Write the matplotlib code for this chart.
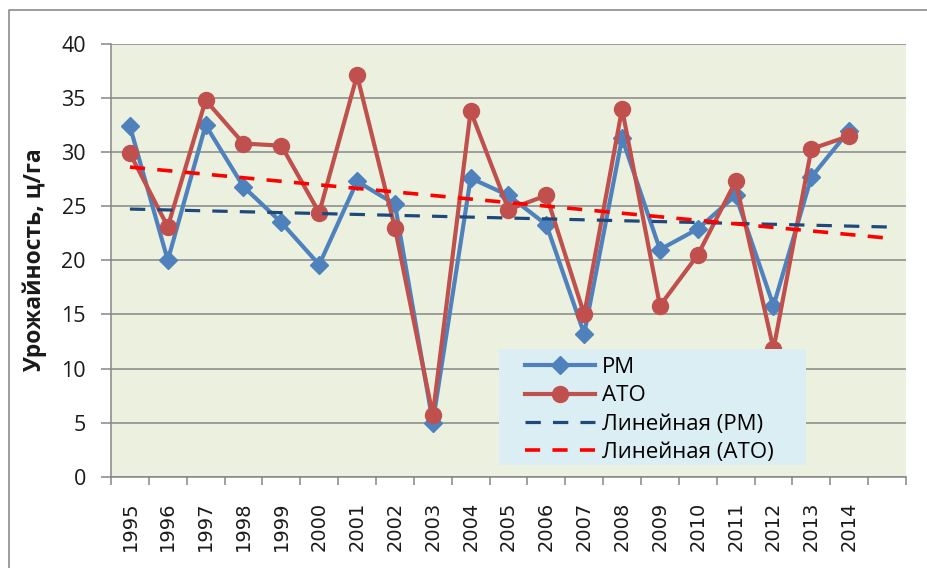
import numpy as np
import matplotlib
matplotlib.use("Agg")
import matplotlib.pyplot as plt
from matplotlib.patches import Rectangle
from matplotlib.lines import Line2D

years = [str(y) for y in range(1995, 2015)]
pm = [32.4, 20.0, 32.5, 26.8, 23.5, 19.6, 27.3, 25.2, 5.0, 27.6,
      26.0, 23.3, 13.2, 31.3, 21.0, 22.9, 26.0, 15.8, 27.7, 32.0]
ato = [29.9, 23.1, 34.8, 30.8, 30.6, 24.4, 37.1, 23.0, 5.7, 33.8,
       24.7, 26.0, 15.0, 34.0, 15.8, 20.5, 27.3, 11.8, 30.3, 31.5]
labels = ["РМ", "АТО", "Линейная (РМ)", "Линейная (АТО)"]
ylabel = "Урожайность, ц/га"

W, H = 928, 568
fig = plt.figure(figsize=(W / 100, H / 100), dpi=100)
ax = fig.add_axes([111 / W, (H - 476.7) / H, (906 - 111) / W, 432.7 / H])
ax.set_facecolor("#EBF1DE")

x = np.arange(1, len(years) + 1)
# trendlines (linear, forecast forward 1 period)
xt = np.array([1, len(years) + 1])
c_pm = np.polyfit(x, pm, 1)
c_ato = np.polyfit(x, ato, 1)

ax.plot(x, pm, color="#4F81BD", lw=3.0, marker="D", ms=9, zorder=3,
        solid_joinstyle="round")
ax.plot(x, ato, color="#C0504D", lw=3.0, marker="o", ms=11.5, zorder=3.1,
        solid_joinstyle="round")
ax.plot(xt, np.polyval(c_pm, xt), color="#1F497D", lw=2.3, ls=(0, (4.8, 3.8)), zorder=3.2)
ax.plot(xt, np.polyval(c_ato, xt), color="#FF0000", lw=2.6, ls=(0, (4.2, 3.4)), zorder=3.3)

ax.set_xlim(0.5, len(years) + 1.5)
ax.set_ylim(0, 40)
ax.set_yticks(np.arange(0, 41, 5))
ax.yaxis.grid(True, color="#868686", lw=1.1)
ax.set_axisbelow(True)
for s in ["top", "right"]:
    ax.spines[s].set_visible(False)
for s in ["left", "bottom"]:
    ax.spines[s].set_color("#868686")
    ax.spines[s].set_linewidth(1.1)

ax.set_xticks(x)
ax.set_xticklabels(years, rotation=90, fontsize=14, family="DejaVu Sans", color="#1a1a1a")
ax.set_xticks(np.arange(0.5, len(years) + 2, 1), minor=True)
ax.tick_params(axis="x", which="major", length=0, pad=18)
ax.tick_params(axis="x", which="minor", length=6, color="#868686", width=1.1)
ax.tick_params(axis="y", length=7, color="#868686", width=1.1, pad=11,
               labelsize=15.5, labelcolor="#1a1a1a")
for t in ax.get_yticklabels():
    t.set_family("Open Sans")

ax.set_ylabel(ylabel, fontsize=16.5, fontweight="bold", family="Open Sans", color="#1a1a1a")
ax.yaxis.set_label_coords(-0.081, 0.5)

# legend background
rect = Rectangle((499, H - 465), 307, 116, transform=None, facecolor="#DBEEF4",
                 edgecolor="none", zorder=5, clip_on=False)
ax.add_artist(rect)
handles = [
    Line2D([], [], color="#4F81BD", lw=3.0, marker="D", ms=9),
    Line2D([], [], color="#C0504D", lw=3.0, marker="o", ms=11.5),
    Line2D([], [], color="#1F497D", lw=2.3, ls=(0, (4.8, 3.8))),
    Line2D([], [], color="#FF0000", lw=2.6, ls=(0, (4.2, 3.4))),
]
leg = ax.legend(handles, labels, loc="upper left",
                bbox_to_anchor=((525 - 111) / 795, (476.7 - 357) / 432.7),
                frameon=False, prop={"family": "Open Sans", "size": 16},
                handlelength=3.15, handletextpad=0.3, labelspacing=0.33,
                borderpad=0, borderaxespad=0)
leg.set_zorder(6)

# outer frame
fig.add_artist(Line2D([9 / W, 9 / W, 1], [0, 1 - 10 / H, 1 - 10 / H],
                      transform=fig.transFigure, color="#8C8C8C", lw=1.2))

fig.savefig("out.png", dpi=100)
